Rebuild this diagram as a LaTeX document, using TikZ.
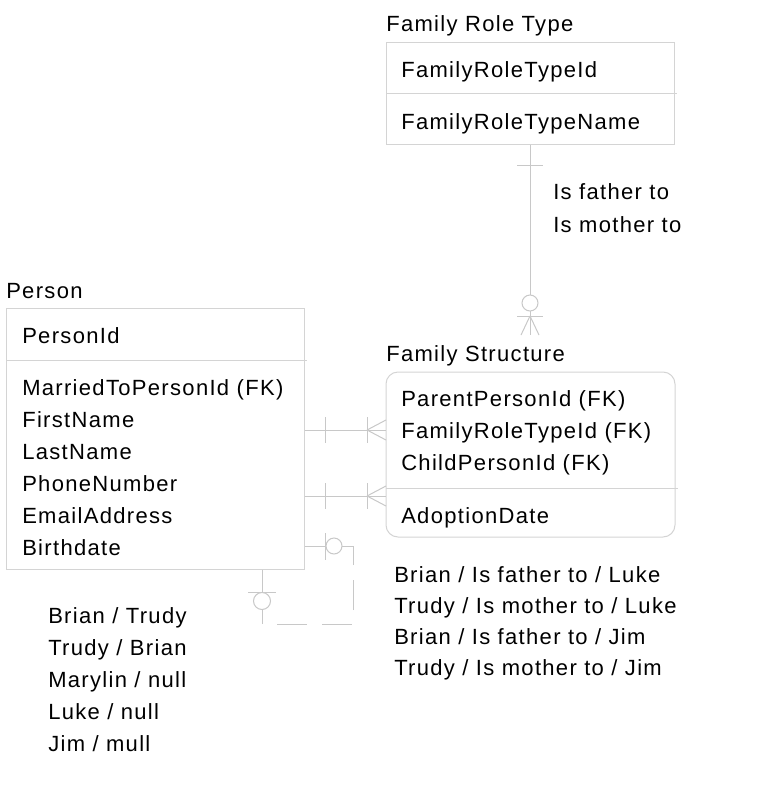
\documentclass[tikz,border=0pt]{standalone}
\usepackage{fontspec}
\setmainfont{Liberation Sans}[LetterSpace=6]
\usetikzlibrary{fit}
\definecolor{boxgray}{RGB}{212,212,212}
\definecolor{linegray}{RGB}{200,200,200}
\tikzset{
  txt/.style={inner sep=0pt, anchor=base west, font=\fontsize{16.5pt}{20pt}\selectfont},
  tbl/.style={draw=boxgray, line width=0.75pt, inner sep=0pt},
  sep/.style={draw=boxgray, line width=0.75pt},
  conn/.style={draw=linegray, line width=0.75pt},
  optcirc/.style={draw=linegray, line width=0.75pt, fill=white},
  dashconn/.style={conn, dash pattern=on 22.5pt off 11.25pt, dash phase=22.5pt}
}
\begin{document}
\begin{tikzpicture}[x=0.75pt,y=-0.75pt]
\useasboundingbox (0,0) rectangle (764,800);

% ---------- Family Role Type ----------
\node[txt] (frtTitle) at (386,31) {Family Role Type};
\coordinate (frtNW) at (386,42);
\coordinate (frtSE) at (674,144);
\node[tbl, fit=(frtNW)(frtSE)] (frt) {};
\draw[sep] (386,93) -- (677,93);
\node[txt] (frtA1) at (401,77) {FamilyRoleTypeId};
\node[txt] (frtA2) at (401,129) {FamilyRoleTypeName};

% ---------- Person ----------
\node[txt] (personTitle) at (6,298) {Person};
\coordinate (pNW) at (6,308);
\coordinate (pSE) at (304,569);
\node[tbl, fit=(pNW)(pSE)] (person) {};
\draw[sep] (6,360) -- (307,360);
\node[txt] (pA0) at (22,343) {PersonId};
\node[txt] (pA1) at (22,395) {MarriedToPersonId (FK)};
\node[txt] (pA2) at (22,427) {FirstName};
\node[txt] (pA3) at (22,459) {LastName};
\node[txt] (pA4) at (22,491) {PhoneNumber};
\node[txt] (pA5) at (22,523) {EmailAddress};
\node[txt] (pA6) at (22,555) {Birthdate};

% ---------- Family Structure ----------
\node[txt] (fsTitle) at (386,361) {Family Structure};
\coordinate (fsNW) at (386,372);
\coordinate (fsSE) at (675,537);
\node[tbl, rounded corners=9pt, fit=(fsNW)(fsSE)] (fs) {};
\draw[sep] (386,488) -- (678,488);
\node[txt] (fsA1) at (401,406) {ParentPersonId (FK)};
\node[txt] (fsA2) at (401,438) {FamilyRoleTypeId (FK)};
\node[txt] (fsA3) at (401,470) {ChildPersonId (FK)};
\node[txt] (fsA4) at (401,523) {AdoptionDate};

% ---------- relationship labels ----------
\node[txt] (rl1) at (553,199) {Is father to};
\node[txt] (rl2) at (553,232) {Is mother to};

\node[txt] (ex1) at (394,582) {Brian / Is father to / Luke};
\node[txt] (ex2) at (394,613) {Trudy / Is mother to / Luke};
\node[txt] (ex3) at (394,644) {Brian / Is father to / Jim};
\node[txt] (ex4) at (394,675) {Trudy / Is mother to / Jim};

\node[txt] (pe1) at (48,623) {Brian / Trudy};
\node[txt] (pe2) at (48,655) {Trudy / Brian};
\node[txt] (pe3) at (48,687) {Marylin / null};
\node[txt] (pe4) at (48,719) {Luke / null};
\node[txt] (pe5) at (48,751) {Jim / mull};

% ---------- FRT -> FS (one to zero-or-many) ----------
\coordinate (fsTop) at (530,335);
\draw[conn] (frt.south -| fsTop) -- (fsTop);
\draw[conn] (517,165) -- (543,165);
\draw[conn] (517,316) -- (543,316);
\draw[conn] (530,316) -- (521,335);
\draw[conn] (530,316) -- (539,335);
\draw[optcirc] (530,303) circle[radius=8];

% ---------- Person -> FS (one and only one to one-or-many) ----------
\foreach \yy in {430,496}{
  \draw[conn] (person.east |- 0,\yy) -- (fs.west |- 0,\yy);
  \draw[conn] (325,\yy-13) -- (325,\yy+13);
  \draw[conn] (367,\yy-13) -- (367,\yy+13);
  \draw[conn] (367,\yy) -- (386,\yy-10);
  \draw[conn] (367,\yy) -- (386,\yy+10);
}

% ---------- Person self relation (married to) ----------
\coordinate (selfR) at (353,546);
\coordinate (selfC1) at (353,624);
\coordinate (selfC2) at (262,624);
\draw[conn] (person.south -| selfC2) -- (selfC2);
\draw[dashconn] (selfC2) -- (selfC1) -- (selfR);
\draw[conn] (selfR) -- (person.east |- selfR);
\draw[conn] (325,533) -- (325,560);
\draw[optcirc] (334,546) circle[radius=8];
\draw[conn] (248,592) -- (276,592);
\draw[optcirc] (262,601) circle[radius=8.5];
\end{tikzpicture}
\end{document}
